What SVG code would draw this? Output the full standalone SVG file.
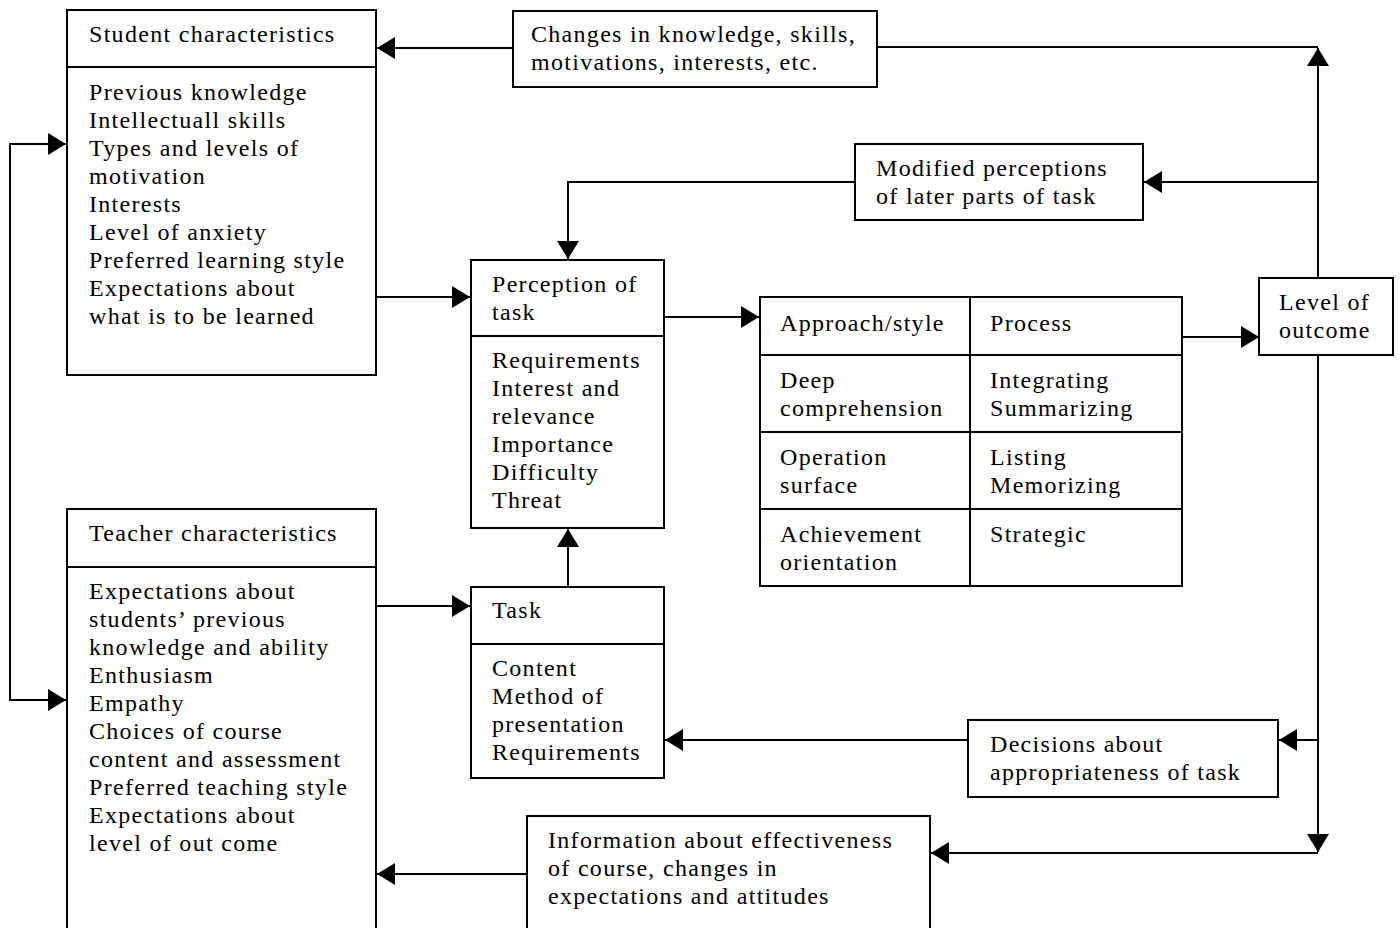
<svg xmlns="http://www.w3.org/2000/svg" width="1400" height="928" viewBox="0 0 1400 928">
<style>
.n,.d{fill:#fff;stroke:#000;stroke-width:2}
.c{fill:none;stroke:#000;stroke-width:2}
text{font-family:"Liberation Serif","Times New Roman",serif;font-size:24px;letter-spacing:1.3px;fill:#000}
</style>
<defs>
<marker id="a" viewBox="0 0 18 22" refX="18" refY="11" markerWidth="18" markerHeight="22" markerUnits="userSpaceOnUse" orient="auto">
<path d="M0,0L18,11L0,22Z" fill="#000"/>
</marker>
</defs>
<rect x="0" y="0" width="1400" height="928" fill="#fff"/>
<g id="connectors">
<polyline class="c" points="513,48 377,48" marker-end="url(#a)"/>
<polyline class="c" points="877,47 1318,47"/>
<polyline class="c" points="1318,278 1318,48" marker-end="url(#a)"/>
<polyline class="c" points="1318,182 1144,182" marker-end="url(#a)"/>
<polyline class="c" points="855,182 568,182 568,259" marker-end="url(#a)"/>
<polyline class="c" points="376,297 470,297" marker-end="url(#a)"/>
<polyline class="c" points="664,317 759,317" marker-end="url(#a)"/>
<polyline class="c" points="1182,337 1259,337" marker-end="url(#a)"/>
<polyline class="c" points="1318,355 1318,852" marker-end="url(#a)"/>
<polyline class="c" points="1318,740 1279,740" marker-end="url(#a)"/>
<polyline class="c" points="1318,853 931,853" marker-end="url(#a)"/>
<polyline class="c" points="968,740 665,740" marker-end="url(#a)"/>
<polyline class="c" points="568,587 568,529" marker-end="url(#a)"/>
<polyline class="c" points="376,606 470,606" marker-end="url(#a)"/>
<polyline class="c" points="527,874 377,874" marker-end="url(#a)"/>
<polyline class="c" points="66,144 10,144 10,700 66,700"/>
<polyline class="c" points="10,144 66,144" marker-end="url(#a)"/>
<polyline class="c" points="10,700 66,700" marker-end="url(#a)"/>
</g>
<g id="student">
<rect class="n" x="67" y="10" width="309" height="365"/>
<line class="d" x1="67" y1="67" x2="376" y2="67"/>
<text x="89" y="42">Student characteristics</text>
<text x="89" y="100">Previous knowledge</text>
<text x="89" y="128">Intellectuall skills</text>
<text x="89" y="156">Types and levels of</text>
<text x="89" y="184">motivation</text>
<text x="89" y="212">Interests</text>
<text x="89" y="240">Level of anxiety</text>
<text x="89" y="268">Preferred learning style</text>
<text x="89" y="296">Expectations about</text>
<text x="89" y="324">what is to be learned</text>
</g>
<g id="changes">
<rect class="n" x="513" y="11" width="364" height="76"/>
<text x="531" y="42">Changes in knowledge, skills,</text>
<text x="531" y="70">motivations, interests, etc.</text>
</g>
<g id="modified">
<rect class="n" x="855" y="144" width="288" height="76"/>
<text x="876" y="176">Modified perceptions</text>
<text x="876" y="204">of later parts of task</text>
</g>
<g id="perception">
<rect class="n" x="471" y="260" width="193" height="268"/>
<line class="d" x1="471" y1="336" x2="664" y2="336"/>
<text x="492" y="292">Perception of</text>
<text x="492" y="320">task</text>
<text x="492" y="368">Requirements</text>
<text x="492" y="396">Interest and</text>
<text x="492" y="424">relevance</text>
<text x="492" y="452">Importance</text>
<text x="492" y="480">Difficulty</text>
<text x="492" y="508">Threat</text>
</g>
<g id="approach">
<rect class="n" x="760" y="297" width="422" height="289"/>
<line class="d" x1="970" y1="297" x2="970" y2="586"/>
<line class="d" x1="760" y1="355" x2="1182" y2="355"/>
<line class="d" x1="760" y1="432" x2="1182" y2="432"/>
<line class="d" x1="760" y1="509" x2="1182" y2="509"/>
<text x="780" y="331">Approach/style</text>
<text x="990" y="331">Process</text>
<text x="780" y="388">Deep</text>
<text x="780" y="416">comprehension</text>
<text x="990" y="388">Integrating</text>
<text x="990" y="416">Summarizing</text>
<text x="780" y="465">Operation</text>
<text x="780" y="493">surface</text>
<text x="990" y="465">Listing</text>
<text x="990" y="493">Memorizing</text>
<text x="780" y="542">Achievement</text>
<text x="780" y="570">orientation</text>
<text x="990" y="542">Strategic</text>
</g>
<g id="outcome">
<rect class="n" x="1259" y="278" width="134" height="77"/>
<text x="1279" y="310">Level of</text>
<text x="1279" y="338">outcome</text>
</g>
<g id="task">
<rect class="n" x="471" y="587" width="193" height="191"/>
<line class="d" x1="471" y1="644" x2="664" y2="644"/>
<text x="492" y="618">Task</text>
<text x="492" y="676">Content</text>
<text x="492" y="704">Method of</text>
<text x="492" y="732">presentation</text>
<text x="492" y="760">Requirements</text>
</g>
<g id="decisions">
<rect class="n" x="968" y="720" width="310" height="77"/>
<text x="990" y="752">Decisions about</text>
<text x="990" y="780">appropriateness of task</text>
</g>
<g id="teacher">
<rect class="n" x="67" y="509" width="309" height="430"/>
<line class="d" x1="67" y1="567" x2="376" y2="567"/>
<text x="89" y="541">Teacher characteristics</text>
<text x="89" y="599">Expectations about</text>
<text x="89" y="627">students’ previous</text>
<text x="89" y="655">knowledge and ability</text>
<text x="89" y="683">Enthusiasm</text>
<text x="89" y="711">Empathy</text>
<text x="89" y="739">Choices of course</text>
<text x="89" y="767">content and assessment</text>
<text x="89" y="795">Preferred teaching style</text>
<text x="89" y="823">Expectations about</text>
<text x="89" y="851">level of out come</text>
</g>
<g id="information">
<rect class="n" x="527" y="816" width="403" height="123"/>
<text x="548" y="848">Information about effectiveness</text>
<text x="548" y="876">of course, changes in</text>
<text x="548" y="904">expectations and attitudes</text>
</g>
</svg>
